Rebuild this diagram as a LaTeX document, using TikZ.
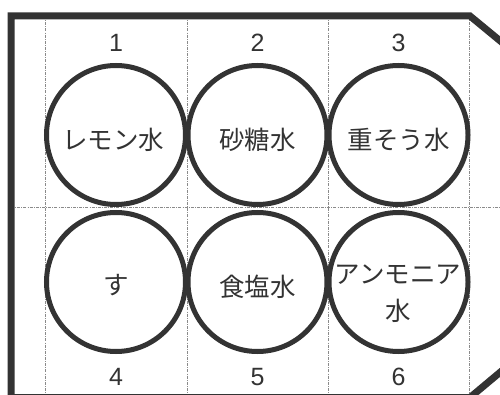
\documentclass[tikz,border=0pt]{standalone}
\usepackage{fontspec}
\newfontfamily\jp{Noto Sans CJK JP}
\newfontfamily\num{Liberation Sans}
\definecolor{ink}{HTML}{333333}
\definecolor{guide}{HTML}{8A8A8A}
\begin{document}
\begin{tikzpicture}[x=1pt,y=-1pt,
  frame/.style={draw=ink,line width=7pt,line join=miter},
  guideline/.style={draw=guide,line width=0.7pt,dash pattern=on 3pt off 1.2pt on 0.8pt off 1.2pt},
  well/.style={circle,draw=ink,line width=5pt,minimum size=139pt,inner sep=0pt},
  wtext/.style={font=\jp\fontsize{25.5}{37}\selectfont,text=ink,align=center,inner sep=0pt},
  wnum/.style={font=\num\fontsize{25}{28}\selectfont,text=ink,inner sep=0pt}]
\useasboundingbox (0,0) rectangle (500,395);
\clip (0,0) rectangle (500,395);
\fill[white] (0,0) rectangle (500,395);
% guide lines
\foreach \x in {45.7,187,328,469} \draw[guideline] (\x,16) -- (\x,400);
\draw[guideline] (11,207) -- (505,207);
% frame
\draw[frame] (510,49) -- (470,16) -- (11,16) -- (11,397.5) -- (470,397.5) -- (510,364);
% wells
\node[well] (w1) at (116,135) {};
\node[well] (w2) at (257.5,135) {};
\node[well] (w3) at (398.5,135) {};
\node[well] (w4) at (116,282) {};
\node[well] (w5) at (257.5,282) {};
\node[well] (w6) at (398.5,282) {};
% labels
\node[wtext] (t1) at (113,140) {レモン水};
\node[wtext] (t2) at (257.5,140) {砂糖水};
\node[wtext] (t3) at (398.5,140) {重そう水};
\node[wtext] (t4) at (116,285) {す};
\node[wtext] (t5) at (257.5,287) {食塩水};
\node[wtext] (t6) at (398,293.5) {アンモニア\\水};
% numbers
\node[wnum] (n1) at (116,43) {1};
\node[wnum] (n2) at (257.5,43) {2};
\node[wnum] (n3) at (398.5,43) {3};
\node[wnum] (n4) at (116,377) {4};
\node[wnum] (n5) at (257.5,377) {5};
\node[wnum] (n6) at (398.5,377) {6};
\end{tikzpicture}
\end{document}
